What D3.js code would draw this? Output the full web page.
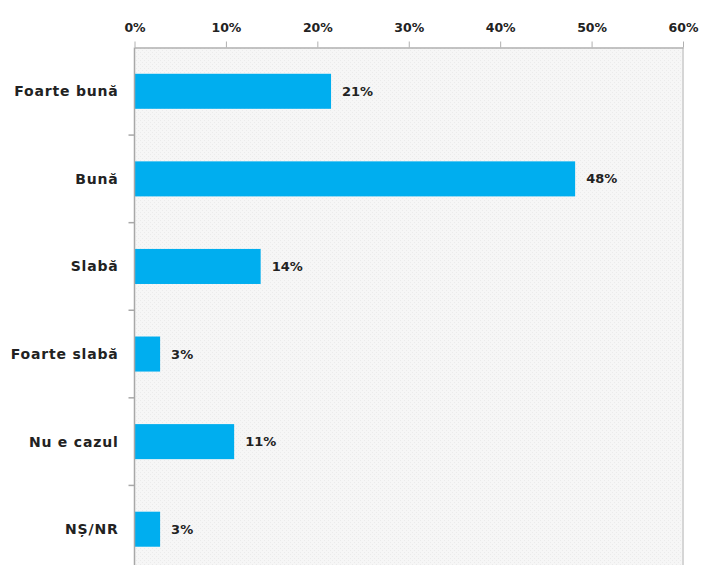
<!DOCTYPE html>
<html><head><meta charset="utf-8">
<script src="https://cdn.jsdelivr.net/npm/d3@7"></script>
<style>
html,body{margin:0;padding:0;background:#fff;}
svg{display:block;}
text{font-family:"DejaVu Sans",Verdana,sans-serif;font-weight:bold;fill:#222;}
</style></head>
<body>
<svg id="chart" width="701" height="565"></svg>
<script>
const categories = ["Foarte bună","Bună","Slabă","Foarte slabă","Nu e cazul","NȘ/NR"];
const values = [21.5, 48.2, 13.8, 2.8, 10.9, 2.8];
const valueLabels = ["21%","48%","14%","3%","11%","3%"];
const xTicks = [0,10,20,30,40,50,60];

const svg = d3.select("#chart");
const mLeft = 134.5, mRight = 683, mTop = 47.5, mBottom = 573;

const defs = svg.append("defs");
const pat = defs.append("pattern").attr("id","bgpat").attr("patternUnits","userSpaceOnUse")
  .attr("width",4).attr("height",4);
pat.append("rect").attr("width",4).attr("height",4).attr("fill","#f6f6f6");
pat.append("rect").attr("x",0).attr("y",0).attr("width",1).attr("height",1).attr("fill","#ebebeb");
pat.append("rect").attr("x",2).attr("y",2).attr("width",1).attr("height",1).attr("fill","#ebebeb");

const x = d3.scaleLinear().domain([0,60]).range([mLeft, mRight]);
const y = d3.scaleBand().domain(categories).range([mTop, mBottom]).paddingInner(0.6).paddingOuter(0.3);
const yb = d3.scaleBand().domain(categories).range([mTop, mBottom]);

svg.append("rect").attr("x",mLeft).attr("y",mTop).attr("width",mRight-mLeft).attr("height",mBottom-mTop)
  .attr("fill","url(#bgpat)");

// right border
svg.append("line").attr("x1",mRight).attr("x2",mRight).attr("y1",mTop).attr("y2",mBottom)
  .attr("stroke","#d6d6d6").attr("stroke-width",2);

// bars
svg.append("g").selectAll("rect").data(values).join("rect")
  .attr("x", x(0))
  .attr("y", (d,i)=>y(categories[i]))
  .attr("width", d=>x(d)-x(0))
  .attr("height", y.bandwidth())
  .attr("fill","#00aeef");

// value labels
svg.append("g").selectAll("text").data(values).join("text")
  .attr("x", d=>x(d)+11)
  .attr("y", (d,i)=>y(categories[i])+y.bandwidth()/2)
  .attr("dy","0.35em")
  .attr("font-size",13)
  .text((d,i)=>valueLabels[i]);

// top axis
const xAxis = d3.axisTop(x).tickValues(xTicks).tickFormat(d=>d+"%").tickSize(6).tickSizeOuter(0);
const gx = svg.append("g").attr("transform",`translate(0,${mTop})`).call(xAxis);
gx.select(".domain").attr("stroke","#b0b0b0").attr("stroke-width",1.5);
gx.selectAll(".tick line").attr("stroke","#b0b0b0");
gx.selectAll(".tick text").attr("font-size",12.5).attr("font-family",null).attr("fill","#222").attr("dy","-0.55em");

// left axis with ticks at band boundaries
svg.append("line").attr("x1",mLeft).attr("x2",mLeft).attr("y1",mTop).attr("y2",mBottom)
  .attr("stroke","#a8a8a8").attr("stroke-width",1.5);
svg.append("g").selectAll("line").data(categories.slice(1)).join("line")
  .attr("x1",mLeft-6).attr("x2",mLeft)
  .attr("y1",d=>yb(d)).attr("y2",d=>yb(d))
  .attr("stroke","#a8a8a8").attr("stroke-width",1.5);

// category labels
svg.append("g").selectAll("text").data(categories).join("text")
  .attr("x", mLeft-16)
  .attr("y", d=>y(d)+y.bandwidth()/2)
  .attr("dy","0.35em")
  .attr("text-anchor","end")
  .attr("font-size",14)
  .attr("letter-spacing",0.8)
  .text(d=>d);
</script>
</body></html>
